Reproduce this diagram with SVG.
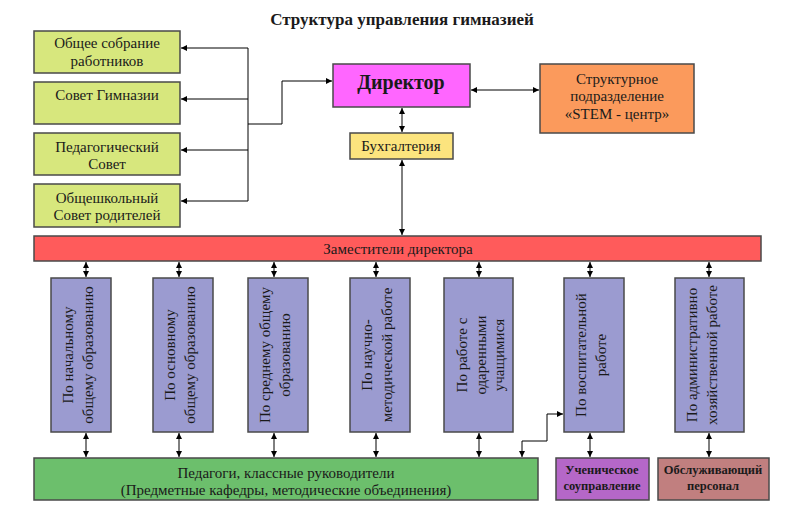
<svg xmlns="http://www.w3.org/2000/svg" width="800" height="512" viewBox="0 0 800 512">
<defs>
<marker id="ah" viewBox="0 0 10 10" refX="10" refY="5" markerWidth="7" markerHeight="6" orient="auto-start-reverse" markerUnits="userSpaceOnUse"><path d="M0,0 L10,5 L0,10 z" fill="#000"/></marker>
<style>
text{font-family:"Liberation Serif","Times New Roman",serif;fill:#1a1a1a;text-anchor:middle}
.t15{font-size:15px}
.b{font-weight:bold}
.box{stroke:#4a4a4a;stroke-width:1.5}
.g{fill:#d7e77d}
.v{fill:#9b9bd0}
.c{fill:none;stroke:#000;stroke-width:1}
.a2{marker-start:url(#ah);marker-end:url(#ah)}
.a1{marker-end:url(#ah)}
</style>
</defs>
<rect width="800" height="512" fill="#fff"/>
<text x="402" y="25" class="b" style="font-size:17px">Структура управления гимназией</text>

<g id="n_obshee"><rect class="box g" x="34" y="31" width="146" height="42"/><text class="t15" x="107" y="48">Общее собрание</text><text class="t15" x="107" y="66">работников</text></g>
<g id="n_sovet_gimn"><rect class="box g" x="34" y="82" width="146" height="42"/><text class="t15" x="107" y="100">Совет Гимназии</text></g>
<g id="n_ped_sovet"><rect class="box g" x="34" y="133" width="146" height="42"/><text class="t15" x="107" y="152">Педагогический</text><text class="t15" x="107" y="169">Совет</text></g>
<g id="n_rod"><rect class="box g" x="34" y="184" width="146" height="43"/><text class="t15" x="107" y="203">Общешкольный</text><text class="t15" x="107" y="220">Совет родителей</text></g>

<g id="n_director"><rect class="box" fill="#ff66ff" x="333" y="64" width="137" height="43"/><text class="b" style="font-size:20px" x="401" y="89">Директор</text></g>
<g id="n_stem"><rect class="box" fill="#fb9a5c" x="540" y="64" width="154" height="69"/><text class="t15" x="617" y="84">Структурное</text><text class="t15" x="617" y="101">подразделение</text><text class="t15" x="617" y="119">«STEM - центр»</text></g>
<g id="n_buh"><rect class="box" fill="#fce47e" x="350" y="133" width="103" height="26"/><text class="t15" x="401" y="151">Бухгалтерия</text></g>
<g id="n_zam"><rect class="box" fill="#ff5b5b" x="34" y="236" width="727" height="25"/><text class="t15" x="398" y="254">Заместители директора</text></g>

<g id="n_nach"><rect class="box v" x="51" y="278" width="60" height="154"/><text class="t15" transform="translate(81,355) rotate(-90)"><tspan x="0" y="-8">По начальному</tspan><tspan x="0" y="12">общему образованию</tspan></text></g>
<g id="n_osn"><rect class="box v" x="153" y="278" width="60" height="154"/><text class="t15" transform="translate(183,355) rotate(-90)"><tspan x="0" y="-8">По основному</tspan><tspan x="0" y="12">общему образованию</tspan></text></g>
<g id="n_sred"><rect class="box v" x="248" y="278" width="60" height="154"/><text class="t15" transform="translate(278,355) rotate(-90)"><tspan x="0" y="-8">По среднему общему</tspan><tspan x="0" y="12">образованию</tspan></text></g>
<g id="n_nauch"><rect class="box v" x="350" y="278" width="60" height="154"/><text class="t15" transform="translate(380,355) rotate(-90)"><tspan x="0" y="-8">По научно-</tspan><tspan x="0" y="12">методической работе</tspan></text></g>
<g id="n_odar"><rect class="box v" x="444" y="278" width="69" height="154"/><text class="t15" transform="translate(479,355) rotate(-90)"><tspan x="0" y="-12">По работе с</tspan><tspan x="0" y="7">одаренными</tspan><tspan x="0" y="25">учащимися</tspan></text></g>
<g id="n_vosp"><rect class="box v" x="564" y="278" width="60" height="154"/><text class="t15" transform="translate(594,355) rotate(-90)"><tspan x="0" y="-8">По воспитательной</tspan><tspan x="0" y="12">работе</tspan></text></g>
<g id="n_adm"><rect class="box v" x="675" y="278" width="69" height="154"/><text class="t15" transform="translate(709,355) rotate(-90)"><tspan x="0" y="-12">По административно</tspan><tspan x="0" y="8">хозяйственной работе</tspan></text></g>

<g id="n_ped"><rect class="box" fill="#6cbf6c" x="34" y="458" width="504" height="42"/><text class="t15" x="286" y="478">Педагоги, классные руководители</text><text class="t15" x="286" y="495">(Предметные кафедры, методические объединения)</text></g>
<g id="n_uch"><rect class="box" fill="#b567c8" x="556" y="458" width="93" height="42"/><text class="b" style="font-size:12.5px" x="602" y="474">Ученическое</text><text class="b" style="font-size:12.5px" x="602" y="490">соуправление</text></g>
<g id="n_obsl"><rect class="box" fill="#c17f7f" x="658" y="458" width="111" height="42"/><text class="b" style="font-size:12.5px" x="713" y="474">Обслуживающий</text><text class="b" style="font-size:12.5px" x="713" y="490">персонал</text></g>

<g id="connectors">
<path class="c" d="M248,48 V201"/>
<path class="c a1" d="M248,48 H181"/>
<path class="c a1" d="M248,99 H181"/>
<path class="c a1" d="M248,150 H181"/>
<path class="c a1" d="M248,201 H181"/>
<path class="c a1" d="M248,124 H282 V81 H332"/>
<path class="c a2" d="M471,90 H539"/>
<path class="c a2" d="M402,108 V132"/>
<path class="c a2" d="M402,160 V235"/>
<path class="c a2" d="M86,262 V277"/>
<path class="c a2" d="M179,262 V277"/>
<path class="c a2" d="M274,262 V277"/>
<path class="c a2" d="M376,262 V277"/>
<path class="c a2" d="M479,262 V277"/>
<path class="c a2" d="M590,262 V277"/>
<path class="c a2" d="M709,262 V277"/>
<path class="c a2" d="M86,433 V457"/>
<path class="c a2" d="M179,433 V457"/>
<path class="c a2" d="M274,433 V457"/>
<path class="c a2" d="M376,433 V457"/>
<path class="c a2" d="M479,433 V457"/>
<path class="c a2" d="M590,433 V457"/>
<path class="c a2" d="M709,433 V457"/>
<path class="c a2" d="M522,457 V441 H547 V414 H563"/>
</g>
</svg>
